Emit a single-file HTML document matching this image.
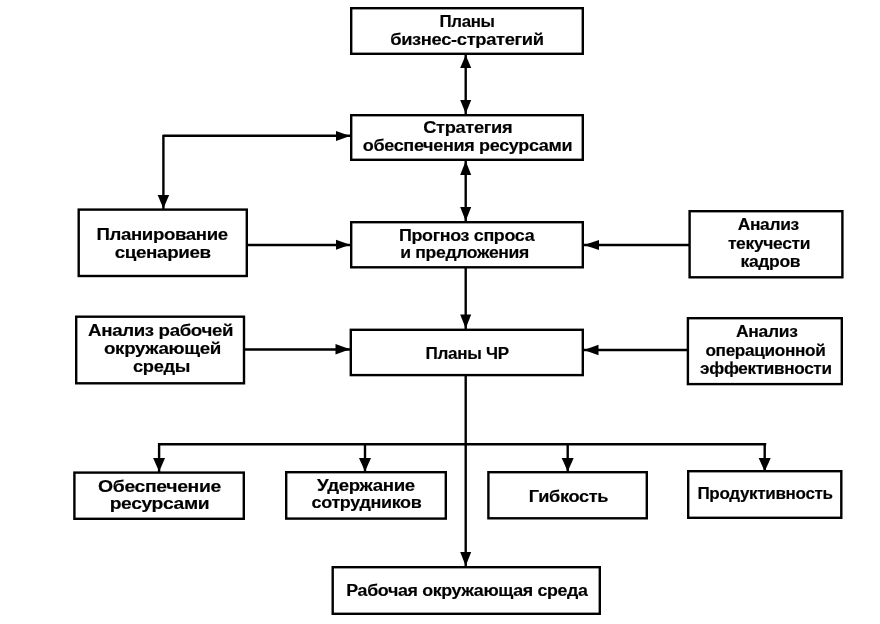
<!DOCTYPE html><html><head><meta charset="utf-8"><style>html,body{margin:0;padding:0;background:#fff;width:880px;height:624px;overflow:hidden}svg{display:block;filter:blur(0.4px)}text{font-family:"Liberation Sans",sans-serif;font-weight:bold;font-size:16.0px;fill:#000;stroke:#000;stroke-width:0.15px;letter-spacing:-0.3px}</style></head><body>
<svg width="880" height="624" viewBox="0 0 880 624">
<rect width="880" height="624" fill="#fff"/>
<rect x="351.2" y="8.2" width="231.6" height="45.6" fill="none" stroke="#000" stroke-width="2.4"/>
<rect x="351.2" y="115.2" width="231.6" height="44.6" fill="none" stroke="#000" stroke-width="2.4"/>
<rect x="351.2" y="222.2" width="231.6" height="45.1" fill="none" stroke="#000" stroke-width="2.4"/>
<rect x="350.8" y="329.8" width="231.99999999999997" height="45.29999999999999" fill="none" stroke="#000" stroke-width="2.4"/>
<rect x="78.7" y="209.6" width="168.1" height="66.39999999999998" fill="none" stroke="#000" stroke-width="2.4"/>
<rect x="689.6" y="211.2" width="152.80000000000004" height="66.1" fill="none" stroke="#000" stroke-width="2.4"/>
<rect x="76.2" y="316.7" width="167.79999999999998" height="66.6" fill="none" stroke="#000" stroke-width="2.4"/>
<rect x="687.9000000000001" y="318.2" width="153.89999999999995" height="65.9" fill="none" stroke="#000" stroke-width="2.4"/>
<rect x="74.4" y="472.59999999999997" width="169.4" height="46.200000000000024" fill="none" stroke="#000" stroke-width="2.4"/>
<rect x="286.2" y="472.2" width="159.6" height="46.399999999999956" fill="none" stroke="#000" stroke-width="2.4"/>
<rect x="488.4" y="472.2" width="158.4" height="46.1" fill="none" stroke="#000" stroke-width="2.4"/>
<rect x="688.2" y="471.2" width="153.1" height="46.6" fill="none" stroke="#000" stroke-width="2.4"/>
<rect x="332.7" y="567.2" width="267.1" height="46.6" fill="none" stroke="#000" stroke-width="2.4"/>
<line x1="465.7" y1="55" x2="465.7" y2="114" stroke="#000" stroke-width="2.4"/>
<polygon points="465.7,55 460.2,68 471.2,68" fill="#000"/>
<polygon points="465.7,113.5 460.2,100.0 471.2,100.0" fill="#000"/>
<line x1="465.7" y1="161" x2="465.7" y2="222" stroke="#000" stroke-width="2.4"/>
<polygon points="465.7,161 460.2,175 471.2,175" fill="#000"/>
<polygon points="465.7,221 460.2,207 471.2,207" fill="#000"/>
<line x1="465.7" y1="268" x2="465.7" y2="329" stroke="#000" stroke-width="2.4"/>
<polygon points="465.7,328.5 460.2,314.5 471.2,314.5" fill="#000"/>
<line x1="465.7" y1="376" x2="465.7" y2="566" stroke="#000" stroke-width="2.4"/>
<polygon points="465.7,566 460.2,552 471.2,552" fill="#000"/>
<line x1="163.4" y1="135.8" x2="350" y2="135.8" stroke="#000" stroke-width="2.4"/>
<line x1="163.4" y1="134.8" x2="163.4" y2="209" stroke="#000" stroke-width="2.4"/>
<polygon points="350,136 336,131.0 336,141.0" fill="#000"/>
<polygon points="163.4,208.5 157.65,195.0 169.15,195.0" fill="#000"/>
<line x1="248" y1="245" x2="350" y2="245" stroke="#000" stroke-width="2.4"/>
<polygon points="350,244.8 336,239.8 336,249.8" fill="#000"/>
<line x1="584" y1="245" x2="689" y2="245" stroke="#000" stroke-width="2.4"/>
<polygon points="584,245 599,240.0 599,250.0" fill="#000"/>
<line x1="245" y1="349.5" x2="350" y2="349.5" stroke="#000" stroke-width="2.4"/>
<polygon points="350,349.3 335.5,344.05 335.5,354.55" fill="#000"/>
<line x1="584" y1="350" x2="687" y2="350" stroke="#000" stroke-width="2.4"/>
<polygon points="584,350 598.5,344.75 598.5,355.25" fill="#000"/>
<line x1="158" y1="444.2" x2="766.2" y2="444.2" stroke="#000" stroke-width="2.4"/>
<line x1="159.1" y1="443.2" x2="159.1" y2="472" stroke="#000" stroke-width="2.4"/>
<polygon points="159.1,471.5 153.1,458.0 165.1,458.0" fill="#000"/>
<line x1="365" y1="443.2" x2="365" y2="472" stroke="#000" stroke-width="2.4"/>
<polygon points="365,471.5 359.0,458.0 371.0,458.0" fill="#000"/>
<line x1="567.7" y1="443.2" x2="567.7" y2="472" stroke="#000" stroke-width="2.4"/>
<polygon points="567.7,471.5 561.7,458.0 573.7,458.0" fill="#000"/>
<line x1="764.7" y1="443.2" x2="764.7" y2="472" stroke="#000" stroke-width="2.4"/>
<polygon points="764.7,471.5 758.7,458.0 770.7,458.0" fill="#000"/>
<text x="439.50" y="26.90" textLength="55.10" lengthAdjust="spacingAndGlyphs">Планы</text>
<text x="390.20" y="45.10" textLength="153.50" lengthAdjust="spacingAndGlyphs">бизнес-стратегий</text>
<text x="423.20" y="133.40" textLength="89.05" lengthAdjust="spacingAndGlyphs">Стратегия</text>
<text x="362.75" y="151.25" textLength="209.50" lengthAdjust="spacingAndGlyphs">обеспечения ресурсами</text>
<text x="399.00" y="240.65" textLength="135.25" lengthAdjust="spacingAndGlyphs">Прогноз спроса</text>
<text x="400.25" y="258.25" textLength="128.75" lengthAdjust="spacingAndGlyphs">и предложения</text>
<text x="425.60" y="358.70" textLength="83.20" lengthAdjust="spacingAndGlyphs">Планы ЧР</text>
<text x="96.40" y="240.40" textLength="131.40" lengthAdjust="spacingAndGlyphs">Планирование</text>
<text x="114.70" y="257.80" textLength="96.10" lengthAdjust="spacingAndGlyphs">сценариев</text>
<text x="737.70" y="230.40" textLength="61.20" lengthAdjust="spacingAndGlyphs">Анализ</text>
<text x="727.90" y="248.50" textLength="82.30" lengthAdjust="spacingAndGlyphs">текучести</text>
<text x="740.50" y="267.10" textLength="59.70" lengthAdjust="spacingAndGlyphs">кадров</text>
<text x="88.10" y="336.20" textLength="145.00" lengthAdjust="spacingAndGlyphs">Анализ рабочей</text>
<text x="104.00" y="354.20" textLength="116.90" lengthAdjust="spacingAndGlyphs">окружающей</text>
<text x="133.00" y="371.50" textLength="57.00" lengthAdjust="spacingAndGlyphs">среды</text>
<text x="736.00" y="337.10" textLength="61.50" lengthAdjust="spacingAndGlyphs">Анализ</text>
<text x="705.40" y="356.00" textLength="120.10" lengthAdjust="spacingAndGlyphs">операционной</text>
<text x="700.10" y="373.80" textLength="131.50" lengthAdjust="spacingAndGlyphs">эффективности</text>
<text x="98.10" y="491.80" textLength="122.80" lengthAdjust="spacingAndGlyphs">Обеспечение</text>
<text x="109.70" y="509.20" textLength="99.60" lengthAdjust="spacingAndGlyphs">ресурсами</text>
<text x="317.10" y="490.90" textLength="97.80" lengthAdjust="spacingAndGlyphs">Удержание</text>
<text x="311.60" y="508.00" textLength="109.80" lengthAdjust="spacingAndGlyphs">сотрудников</text>
<text x="528.80" y="502.00" textLength="79.30" lengthAdjust="spacingAndGlyphs">Гибкость</text>
<text x="697.40" y="498.70" textLength="135.30" lengthAdjust="spacingAndGlyphs">Продуктивность</text>
<text x="346.30" y="596.30" textLength="241.30" lengthAdjust="spacingAndGlyphs">Рабочая окружающая среда</text>
</svg></body></html>
